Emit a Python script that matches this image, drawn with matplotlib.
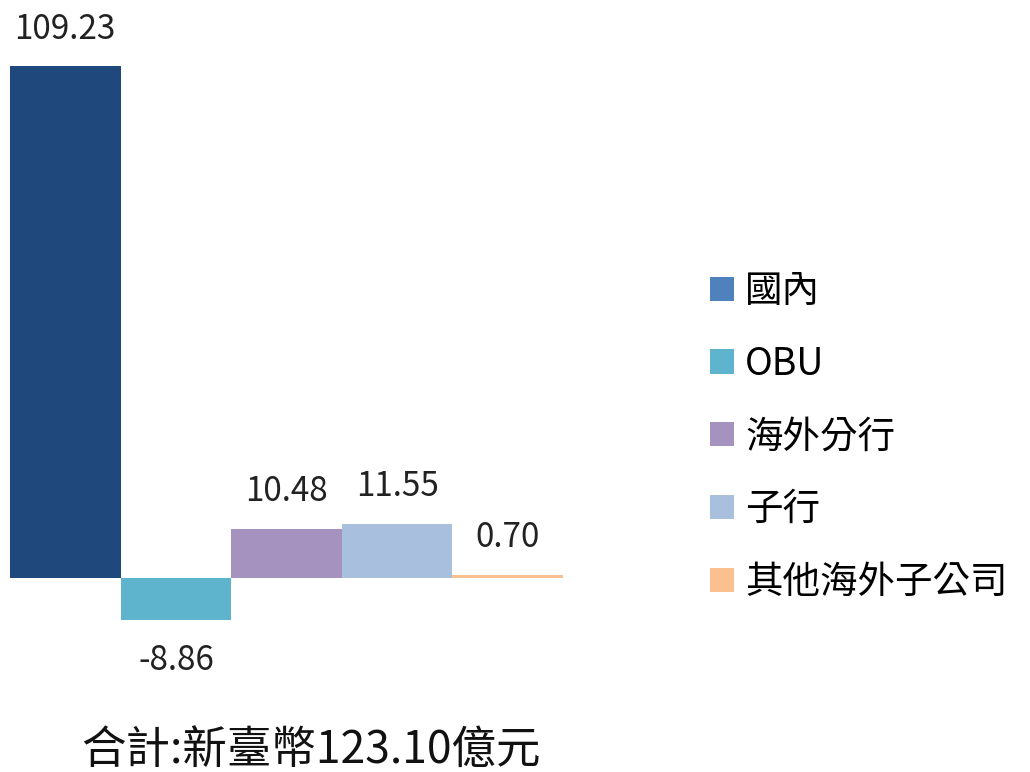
import matplotlib.pyplot as plt
from matplotlib.patches import Patch

plt.rcParams['font.family'] = ['Noto Sans CJK TC', 'DejaVu Sans']

categories = ["國內", "OBU", "海外分行", "子行", "其他海外子公司"]
values = [109.23, -8.86, 10.48, 11.55, 0.70]
labels = ["109.23", "-8.86", "10.48", "11.55", "0.70"]
bar_colors = ["#1F497D", "#5EB4CC", "#A692BF", "#A8C0DE", "#FAC090"]
legend_colors = ["#4F81BD", "#5EB4CC", "#A692BF", "#A8C0DE", "#FAC090"]
total_text = "合計:新臺幣123.10億元"

fig = plt.figure(figsize=(10.3, 7.72), dpi=100)
ax = fig.add_axes([10 / 1030, 1 - 680 / 772, 553 / 1030, 660 / 772])

x = range(len(categories))
ax.bar(x, values, width=1.0, color=bar_colors, edgecolor="none")
ax.set_xlim(-0.5, 4.5)
ax.set_ylim(-21.76, 119.04)
ax.axis("off")

for i, (v, lab) in enumerate(zip(values, labels)):
    if v >= 0:
        ax.annotate(lab, (i, v), xytext=(0, 14), textcoords="offset points",
                    ha="center", va="bottom", fontsize=24, color="#222222")
    else:
        ax.annotate(lab, (i, v), xytext=(0, -17), textcoords="offset points",
                    ha="center", va="top", fontsize=24, color="#222222")

handles = [Patch(facecolor=c, edgecolor="none") for c in legend_colors]
fig.legend(handles, categories, loc="center left", bbox_to_anchor=(0.657, 0.434),
           frameon=False, fontsize=27, handlelength=0.62, handleheight=0.62,
           handletextpad=0.3, labelspacing=0.9)

fig.text(311 / 1030, 1 - 750 / 772, total_text, ha="center", va="center",
         fontsize=32, color="#111111")

fig.savefig("out.png", dpi=100)
